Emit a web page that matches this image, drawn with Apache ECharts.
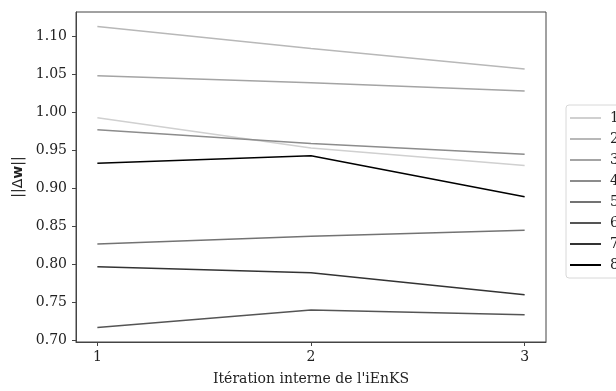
<!DOCTYPE html>
<html>
<head>
<meta charset="utf-8">
<script src="https://cdn.jsdelivr.net/npm/echarts@6/dist/echarts.min.js"></script>
<style>html,body{margin:0;padding:0;background:#fff;}#c{width:616px;height:391px;}</style>
</head>
<body>
<div id="c"></div>
<script>
var iterations = [1, 2, 3];
var seriesNames = ['1', '2', '3', '4', '5', '6', '7', '8'];
var s1 = [0.993, 0.953, 0.930];
var s2 = [1.113, 1.084, 1.057];
var s3 = [1.048, 1.039, 1.028];
var s4 = [0.977, 0.959, 0.945];
var s5 = [0.827, 0.837, 0.845];
var s6 = [0.717, 0.740, 0.734];
var s7 = [0.797, 0.789, 0.760];
var s8 = [0.933, 0.943, 0.889];
var yTicks = [0.70, 0.75, 0.80, 0.85, 0.90, 0.95, 1.00, 1.05, 1.10];
var xTicks = [1, 2, 3];
var colors = ['#d0d0d0', '#b8b8b8', '#a4a4a4', '#8c8c8c', '#737373', '#555555', '#333333', '#000000'];

var allSeries = [s1, s2, s3, s4, s5, s6, s7, s8];
var font = 'DejaVu Serif';
var chart = echarts.init(document.getElementById('c'), null, {renderer: 'canvas'});
chart.setOption({
  animation: false,
  backgroundColor: '#fff',
  color: colors,
  grid: {left: 76, top: 12, right: 70, bottom: 39, show: true, borderColor: '#444', borderWidth: 1, backgroundColor: 'transparent'},
  legend: {
    orient: 'vertical', left: 566, top: 105,
    data: seriesNames,
    icon: 'rect', itemWidth: 31, itemHeight: 2, itemGap: 5,
    padding: [5, 20, 5, 4],
    borderColor: '#d8d8d8', borderWidth: 1, borderRadius: 3,
    textStyle: {fontFamily: font, fontSize: 14, color: '#222', lineHeight: 16, padding: [0, 0, 0, 4]}
  },
  xAxis: {
    type: 'value', min: 0.9, max: 3.1,
    name: "Itération interne de l'iEnKS", nameLocation: 'middle', nameGap: 30,
    nameTextStyle: {fontFamily: font, fontSize: 14, color: '#222'},
    axisLine: {show: true, lineStyle: {color: '#444'}},
    axisTick: {show: true, inside: false, length: 4, lineStyle: {color: '#444'}, customValues: xTicks},
    axisLabel: {fontFamily: font, fontSize: 14, color: '#222', margin: 8, customValues: xTicks, formatter: function(v){return String(v);}},
    splitLine: {show: false}
  },
  yAxis: {
    type: 'value', min: 0.698, max: 1.132,
    name: '{a|||Δ}{b|w}{a|||}', nameLocation: 'middle', nameGap: 48, nameRotate: 90,
    nameTextStyle: {fontFamily: font, fontSize: 14, color: '#222',
      rich: {a: {fontFamily: 'DejaVu Sans', fontSize: 14, color: '#222'}, b: {fontFamily: 'DejaVu Sans', fontWeight: 'bold', fontSize: 14, color: '#222'}}},
    axisLine: {show: true, lineStyle: {color: '#444'}},
    axisTick: {show: true, inside: false, length: 4, lineStyle: {color: '#444'}, customValues: yTicks},
    axisLabel: {fontFamily: font, fontSize: 14, color: '#222', margin: 9, customValues: yTicks, formatter: function(v){return v.toFixed(2);}},
    splitLine: {show: false}
  },
  series: allSeries.map(function(s, i){
    return {
      name: seriesNames[i], type: 'line', showSymbol: false, symbol: 'none',
      data: s.map(function(v, j){return [iterations[j], v];}),
      lineStyle: {width: 1.5, color: colors[i]}, itemStyle: {color: colors[i]}
    };
  })
});
</script>
</body>
</html>
